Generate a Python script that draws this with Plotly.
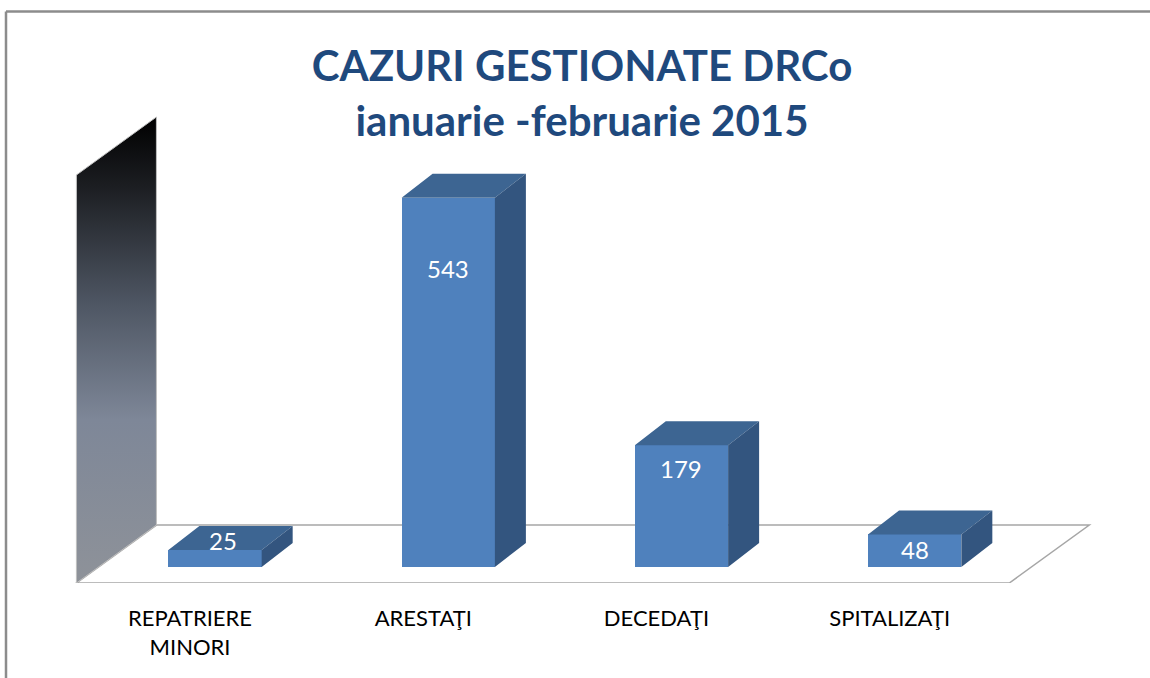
import plotly.graph_objects as go

# ---------------- data ----------------
categories = ["REPATRIERE<br>MINORI", "ARESTAŢI", "DECEDAŢI", "SPITALIZAŢI"]
values = [25, 543, 179, 48]
title_lines = ["CAZURI GESTIONATE DRCo", "ianuarie -februarie 2015"]
axis_max = 600

# ---------------- layout geometry / style ----------------
W, H = 1150, 678
M_L, M_R, M_T, M_B = 0, 0, 0, 95
plot_w = W - M_L - M_R
plot_h = H - M_T - M_B
x_range = [-0.922, 4.009]
y_range = [-23.5, 833.8]
px_x = plot_w / (x_range[1] - x_range[0])
px_y = plot_h / (y_range[1] - y_range[0])


def ux(px):
    return px / px_x


def uy(px):
    return px / px_y


FRONT = "#4F81BD"
TOP = "#3D6592"
SIDE = "#33557F"
TITLE_C = "#1F497D"
FONT = "Lato, 'Open Sans', sans-serif"

bar_w = 0.4
bar_dx, bar_dy = ux(31), uy(24)          # depth of a column
front_dx, front_dy = ux(-22), uy(-16)    # floor front relative to column front
floor_dx, floor_dy = ux(80), uy(58)      # full floor depth
label_shift_px = [(8, 10), (0, -71), (0, -23), (0, -15)]  # data label offsets

pos = list(range(len(categories)))

fig = go.Figure()

# ---- floor (shape below) ----
fx0 = pos[0] - 0.5 + front_dx
fx1 = pos[-1] + 0.5 + front_dx
fy = front_dy
floor_path = (f"M {fx0},{fy} L {fx1},{fy} L {fx1 + floor_dx},{fy + floor_dy} "
              f"L {fx0 + floor_dx},{fy + floor_dy} Z")
shapes = [dict(type="path", path=floor_path, xref="x", yref="y", layer="below",
               fillcolor="white", line=dict(color="#A6A6A6", width=1.5))]

# ---- side wall (gradient) ----
wall_x = [fx0, fx0 + floor_dx, fx0 + floor_dx, fx0, fx0]
wall_y = [fy, fy + floor_dy, fy + floor_dy + axis_max, fy + axis_max, fy]
fig.add_trace(go.Scatter(
    x=wall_x, y=wall_y, mode="lines", fill="toself",
    line=dict(color="#BFBFBF", width=1),
    fillgradient=dict(type="vertical",
                      colorscale=[[0, "#8E9299"], [0.35, "#7E8798"],
                                  [0.6, "#4E5663"], [0.85, "#1C1E22"], [1, "#000000"]]),
    hoverinfo="skip", showlegend=False))

# ---- column front faces ----
fig.add_trace(go.Bar(x=pos, y=values, width=bar_w, marker=dict(color=FRONT, line=dict(width=0)),
                     showlegend=False, hoverinfo="skip"))

# ---- column top and side faces ----
tx, ty, sx, sy = [], [], [], []
for i, v in zip(pos, values):
    xl, xr = i - bar_w / 2, i + bar_w / 2
    tx += [xl, xr, xr + bar_dx, xl + bar_dx, xl, None]
    ty += [v, v, v + bar_dy, v + bar_dy, v, None]
    sx += [xr, xr + bar_dx, xr + bar_dx, xr, xr, None]
    sy += [0, bar_dy, v + bar_dy, v, 0, None]
fig.add_trace(go.Scatter(x=tx, y=ty, mode="lines", fill="toself", fillcolor=TOP,
                         line=dict(width=0, color=TOP), hoverinfo="skip", showlegend=False))
fig.add_trace(go.Scatter(x=sx, y=sy, mode="lines", fill="toself", fillcolor=SIDE,
                         line=dict(width=0, color=SIDE), hoverinfo="skip", showlegend=False))

# ---- data labels ----
annotations = []
for i, v, (dxp, dyp) in zip(pos, values, label_shift_px):
    annotations.append(dict(x=i, y=v, xref="x", yref="y", text=str(v), showarrow=False,
                            xanchor="center", yanchor="middle", xshift=dxp, yshift=dyp,
                            font=dict(family=FONT, size=24, color="white")))

# ---- chart frame ----
fx_paper = 6 / plot_w
fy_paper = 1 - 11.5 / plot_h
shapes.append(dict(type="line", xref="paper", yref="paper", x0=fx_paper, x1=1.02,
                   y0=fy_paper, y1=fy_paper, line=dict(color="#8C8C8C", width=2.5)))
shapes.append(dict(type="line", xref="paper", yref="paper", x0=fx_paper, x1=fx_paper,
                   y0=fy_paper, y1=-0.25, line=dict(color="#8C8C8C", width=2.5)))

fig.update_layout(
    width=W, height=H,
    margin=dict(l=M_L, r=M_R, t=M_T, b=M_B),
    paper_bgcolor="white", plot_bgcolor="white",
    title=dict(text="<br>".join(f"<b>{t}</b>" for t in title_lines),
               x=582 / W, xanchor="center", y=1 - 81 / H, yanchor="middle",
               xref="container", yref="container",
               font=dict(family=FONT, size=42, color=TITLE_C)),
    xaxis=dict(range=x_range, tickvals=pos, ticktext=categories, showgrid=False,
               zeroline=False, showline=False, ticks="", ticklabelshift=-25,
               ticklabelstandoff=20,
               tickfont=dict(family=FONT, size=22, color="#000000"), fixedrange=True),
    yaxis=dict(range=y_range, visible=False, showgrid=False, zeroline=False, fixedrange=True),
    shapes=shapes,
    annotations=annotations,
    bargap=0,
)

fig.write_html("out.html", config={"displayModeBar": False},
               post_script="document.body.style.margin='0';")
